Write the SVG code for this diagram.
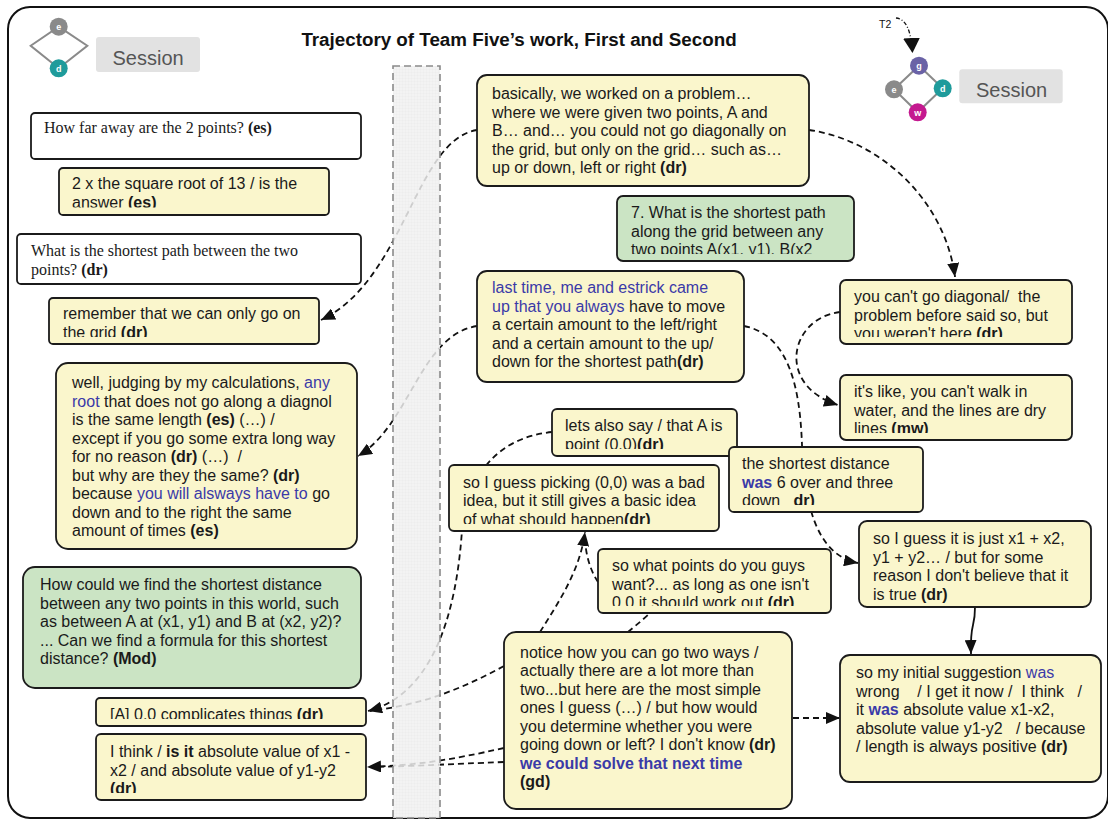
<svg xmlns="http://www.w3.org/2000/svg" width="1108" height="821" viewBox="0 0 1108 821">
  <defs>
    <style>
      .frame { fill: none; stroke: #111; stroke-width: 2; }
      .box { stroke: #1b1b1b; stroke-width: 1.8; }
      .yel { fill: #faf6cc; }
      .grn { fill: #cbe4c4; }
      .wht { fill: #ffffff; }
      .t { font-family: "Liberation Sans", Arial, sans-serif; font-size: 16px; fill: #1a1a1a; }
      .s { font-family: "Liberation Serif", "Times New Roman", serif; font-size: 16px; fill: #1a1a1a; }
      .b { font-weight: bold; }
      .bl { fill: #3a3aa8; }
      .title { font-family: "Liberation Sans", Arial, sans-serif; font-size: 18.8px; font-weight: bold; fill: #111; }
      .sess { fill: #e2e2e2; }
      .sesst { font-family: "Liberation Sans", Arial, sans-serif; font-size: 20px; fill: #555; }
      .edge { fill: none; stroke: #8a8a8a; stroke-width: 2; }
      .lt { font-family: "Liberation Sans", Arial, sans-serif; font-size: 9px; font-weight: bold; fill: #fff; text-anchor: middle; }
      .dash { fill: none; stroke: #111; stroke-width: 1.8; stroke-dasharray: 6 4; }
      .solid { fill: none; stroke: #111; stroke-width: 1.8; }
      .band { fill: url(#grid); fill-opacity: 0.85; stroke: #8a8a8a; stroke-width: 1.6; stroke-dasharray: 7 4; }
    </style>
    <marker id="arrow" markerUnits="userSpaceOnUse" viewBox="0 0 14 12" refX="14" refY="6" markerWidth="14" markerHeight="12" orient="auto">
      <path d="M0,0 L14,6 L0,12 Z" fill="#111"/>
    </marker>
    <marker id="bigarrow" markerUnits="userSpaceOnUse" viewBox="0 0 15 17" refX="15" refY="8.5" markerWidth="15" markerHeight="17" orient="auto">
      <path d="M0,0 L15,8.5 L0,17 Z" fill="#111"/>
    </marker>
    <pattern id="grid" width="3" height="3" patternUnits="userSpaceOnUse">
      <rect width="3" height="3" fill="#f1f1f1"/>
      <path d="M0,0 H3 M0,0 V3" stroke="#dedede" stroke-width="0.5"/>
    </pattern>
    <clipPath id="c2" clipPathUnits="userSpaceOnUse"><rect x="59" y="168" width="270" height="39.5"/></clipPath>
    <clipPath id="c4" clipPathUnits="userSpaceOnUse"><rect x="49" y="298" width="270" height="39"/></clipPath>
    <clipPath id="c7" clipPathUnits="userSpaceOnUse"><rect x="96" y="698" width="270" height="21"/></clipPath>
    <clipPath id="c8" clipPathUnits="userSpaceOnUse"><rect x="96" y="734" width="270" height="59"/></clipPath>
    <clipPath id="c10" clipPathUnits="userSpaceOnUse"><rect x="617" y="196" width="237" height="58"/></clipPath>
    <clipPath id="c12" clipPathUnits="userSpaceOnUse"><rect x="840" y="280" width="232" height="57"/></clipPath>
    <clipPath id="c13" clipPathUnits="userSpaceOnUse"><rect x="840" y="375" width="232" height="58"/></clipPath>
    <clipPath id="c14" clipPathUnits="userSpaceOnUse"><rect x="552" y="409" width="185" height="40"/></clipPath>
    <clipPath id="c15" clipPathUnits="userSpaceOnUse"><rect x="449" y="465" width="270" height="59"/></clipPath>
    <clipPath id="c16" clipPathUnits="userSpaceOnUse"><rect x="729" y="447" width="194" height="58"/></clipPath>
    <clipPath id="c17" clipPathUnits="userSpaceOnUse"><rect x="598" y="549" width="233" height="57"/></clipPath>
  </defs>

  <rect class="frame" x="8" y="7" width="1100" height="811" rx="22"/>

  <text class="title" x="519" y="46" text-anchor="middle">Trajectory of Team Five’s work, First and Second</text>

  <!-- first session marker -->
  <g id="session-first">
    <path class="edge" d="M58.7,26.7 L87.3,45.7 L58.7,68.3 L30.7,45.7 Z"/>
    <circle cx="58.7" cy="26.7" r="9" fill="#8a8a8a"/>
    <text class="lt" x="58.7" y="30">e</text>
    <circle cx="58.7" cy="68.3" r="9" fill="#1f9b9b"/>
    <text class="lt" x="58.7" y="71.6">d</text>
    <rect class="sess" x="96" y="37" width="104" height="35" rx="3"/>
    <text class="sesst" x="112.5" y="64.5">Session</text>
  </g>

  <!-- second session marker -->
  <g id="session-second">
    <path class="edge" d="M919,65.7 L942.7,88.3 L917.7,112.3 L894,89.3 Z"/>
    <circle cx="919" cy="65.7" r="9" fill="#6a62a6"/>
    <text class="lt" x="919" y="69">g</text>
    <circle cx="894" cy="89.3" r="9" fill="#8a8a8a"/>
    <text class="lt" x="894" y="92.6">e</text>
    <circle cx="942.7" cy="88.3" r="9" fill="#1f9b9b"/>
    <text class="lt" x="942.7" y="91.6">d</text>
    <circle cx="917.7" cy="112.3" r="9" fill="#c4198f"/>
    <text class="lt" x="917.7" y="115.6">w</text>
    <rect class="sess" x="959.3" y="69.3" width="103.4" height="34" rx="3"/>
    <text class="sesst" x="976" y="96.7">Session</text>
    <text x="879" y="27.5" font-family="Liberation Sans, Arial, sans-serif" font-size="10.5" fill="#111">T2</text>
    <path d="M896,18 C906,19 911,30 912.5,53" fill="none" stroke="#111" stroke-width="1.3" stroke-dasharray="4 2 1 2" marker-end="url(#bigarrow)"/>
  </g>

  <!-- connectors -->
  <g id="connectors">
    <path class="dash" d="M477,130 C415,140 405,280 321,320" marker-end="url(#arrow)"/>
    <path class="dash" d="M809,130 C880,140 945,200 955,277" marker-end="url(#arrow)"/>
    <path class="dash" d="M477,326 C420,335 410,425 358,456" marker-end="url(#arrow)"/>
    <path class="dash" d="M744,326 C790,335 800,390 802,445 C804,500 815,555 858,563" marker-end="url(#arrow)"/>
    <path class="dash" d="M840,312 C790,318 775,385 838,405" marker-end="url(#arrow)"/>
    <path class="dash" d="M552,432 C505,437 470,465 462,530 C456,620 430,695 368,711" marker-end="url(#arrow)"/>
    <path class="dash" d="M504,666 C460,690 420,705 370,711"/>
    <path class="dash" d="M504,748 C450,760 420,765 367,767" marker-end="url(#arrow)"/>
    <path class="dash" d="M504,762 C450,764 420,766 370,767"/>
    <path class="dash" d="M540,632 C560,600 580,570 585,532" marker-end="url(#arrow)"/>
    <path class="dash" d="M598,582 C590,570 586,555 585,540"/>
    <path class="dash" d="M628,632 C640,622 655,610 672,590"/>
    <path class="dash" d="M793,718 L840,718" marker-end="url(#arrow)"/>
    <path class="solid" d="M975,607 C975,630 970,620 971,654" marker-end="url(#arrow)"/>
  </g>

  <!-- shaded time band between the two sessions -->
  <rect class="band" x="393" y="66" width="47" height="752"/>

  <g id="n-how-far">
    <rect class="box wht" x="31" y="113" width="330" height="46" rx="4"/>
    <text class="s" x="44" y="133">How far away are the 2 points? <tspan class="b">(es)</tspan></text>
  </g>

  <g id="n-sqrt13">
    <rect class="box yel" x="59" y="168" width="270" height="47" rx="4"/>
    <text class="t" x="72" y="189" clip-path="url(#c2)">2 x the square root of 13 / is the<tspan x="72" dy="19">answer <tspan class="b">(es)</tspan></tspan></text>
  </g>

  <g id="n-shortest-question">
    <rect class="box wht" x="17" y="234" width="344" height="50" rx="4"/>
    <text class="s" x="31" y="256">What is the shortest path between the two<tspan x="31" dy="19">points? <tspan class="b">(dr)</tspan></tspan></text>
  </g>

  <g id="n-remember">
    <rect class="box yel" x="49" y="298" width="270" height="46" rx="4"/>
    <text class="t" x="63" y="319" clip-path="url(#c4)">remember that we can only go on<tspan x="63" dy="18.5">the grid <tspan class="b">(dr)</tspan></tspan></text>
  </g>

  <g id="n-judging">
    <rect class="box yel" x="56" y="363" width="301" height="186" rx="12"/>
    <text class="t" x="72" y="388">well, judging by my calculations, <tspan class="bl">any</tspan>
      <tspan x="72" dy="18.5"><tspan class="bl">root</tspan> that does not go along a diagnol</tspan>
      <tspan x="72" dy="18.5">is the same length <tspan class="b">(es)</tspan> (…) /</tspan>
      <tspan x="72" dy="18.5">except if you go some extra long way</tspan>
      <tspan x="72" dy="18.5">for no reason <tspan class="b">(dr)</tspan> (…)&#160; /</tspan>
      <tspan x="72" dy="18.5">but why are they the same? <tspan class="b">(dr)</tspan></tspan>
      <tspan x="72" dy="18.5">because <tspan class="bl">you will alsways have to</tspan> go</tspan>
      <tspan x="72" dy="18.5">down and to the right the same</tspan>
      <tspan x="72" dy="18.5">amount of times <tspan class="b">(es)</tspan></tspan></text>
  </g>

  <g id="n-mod-question">
    <rect class="box grn" x="23" y="567" width="338" height="121" rx="12"/>
    <text class="t" x="40" y="590">How could we find the shortest distance
      <tspan x="40" dy="18.5">between any two points in this world, such</tspan>
      <tspan x="40" dy="18.5">as between A at (x1, y1) and B at (x2, y2)?</tspan>
      <tspan x="40" dy="18.5">... Can we find a formula for this shortest</tspan>
      <tspan x="40" dy="18.5">distance? <tspan class="b">(Mod)</tspan></tspan></text>
  </g>

  <g id="n-zero-zero">
    <rect class="box yel" x="96" y="698" width="270" height="28" rx="4"/>
    <text class="t" x="110" y="719.5" clip-path="url(#c7)">[A] 0.0 complicates things <tspan class="b">(dr)</tspan></text>
  </g>

  <g id="n-i-think">
    <rect class="box yel" x="96" y="734" width="270" height="66" rx="5"/>
    <text class="t" x="110" y="757" clip-path="url(#c8)">I think / <tspan class="b">is it</tspan> absolute value of x1 -<tspan x="110" dy="18.5">x2 / and absolute value of y1-y2</tspan><tspan x="110" dy="18.5" class="b">(dr)</tspan></text>
  </g>

  <g id="n-basically">
    <rect class="box yel" x="477" y="75" width="332" height="111" rx="10"/>
    <text class="t" x="492" y="99">basically, we worked on a problem…
      <tspan x="492" dy="18.5">where we were given two points, A and</tspan>
      <tspan x="492" dy="18.5">B… and… you could not go diagonally on</tspan>
      <tspan x="492" dy="18.5">the grid, but only on the grid… such as…</tspan>
      <tspan x="492" dy="18.5">up or down, left or right <tspan class="b">(dr)</tspan></tspan></text>
  </g>

  <g id="n-question-7">
    <rect class="box grn" x="617" y="196" width="237" height="65" rx="6"/>
    <text class="t" x="631" y="218" clip-path="url(#c10)">7. What is the shortest path<tspan x="631" dy="18.5">along the grid between any</tspan><tspan x="631" dy="18.5">two points A(x1, y1), B(x2</tspan></text>
  </g>

  <g id="n-last-time">
    <rect class="box yel" x="477" y="271" width="267" height="111" rx="10"/>
    <text class="t" x="492" y="293"><tspan class="bl">last time, me and estrick came</tspan>
      <tspan x="492" dy="18.5"><tspan class="bl">up that you always</tspan> have to move</tspan>
      <tspan x="492" dy="18.5">a certain amount to the left/right</tspan>
      <tspan x="492" dy="18.5">and a certain amount to the up/</tspan>
      <tspan x="492" dy="18.5">down for the shortest path<tspan class="b">(dr)</tspan></tspan></text>
  </g>

  <g id="n-diagonal">
    <rect class="box yel" x="840" y="280" width="232" height="64" rx="6"/>
    <text class="t" x="854" y="302" clip-path="url(#c12)">you can't go diagonal/&#160; the<tspan x="854" dy="18.5">problem before said so, but</tspan><tspan x="854" dy="18.5">you weren't here <tspan class="b">(dr)</tspan></tspan></text>
  </g>

  <g id="n-water">
    <rect class="box yel" x="840" y="375" width="232" height="65" rx="6"/>
    <text class="t" x="854" y="397" clip-path="url(#c13)">it's like, you can't walk in<tspan x="854" dy="18.5">water, and the lines are dry</tspan><tspan x="854" dy="18.5">lines <tspan class="b">(mw)</tspan></tspan></text>
  </g>

  <g id="n-lets-also">
    <rect class="box yel" x="552" y="409" width="185" height="47" rx="5"/>
    <text class="t" x="565" y="431" clip-path="url(#c14)">lets also say / that A is<tspan x="565" dy="18.5">point (0,0)<tspan class="b">(dr)</tspan></tspan></text>
  </g>

  <g id="n-picking">
    <rect class="box yel" x="449" y="465" width="270" height="66" rx="5"/>
    <text class="t" x="463" y="487.5" clip-path="url(#c15)">so I guess picking (0,0) was a bad<tspan x="463" dy="18.5">idea, but it still gives a basic idea</tspan><tspan x="463" dy="18.5">of what should happen<tspan class="b">(dr)</tspan></tspan></text>
  </g>

  <g id="n-shortest-distance">
    <rect class="box yel" x="729" y="447" width="194" height="65" rx="5"/>
    <text class="t" x="742" y="469" clip-path="url(#c16)">the shortest distance<tspan x="742" dy="18.5"><tspan class="b bl">was</tspan> 6 over and three</tspan><tspan x="742" dy="18.5">down&#160;&#160; <tspan class="b">dr)</tspan></tspan></text>
  </g>

  <g id="n-what-points">
    <rect class="box yel" x="598" y="549" width="233" height="64" rx="5"/>
    <text class="t" x="612" y="571" clip-path="url(#c17)">so what points do you guys<tspan x="612" dy="18.5">want?... as long as one isn't</tspan><tspan x="612" dy="18.5">0,0 it should work out <tspan class="b">(dr)</tspan></tspan></text>
  </g>

  <g id="n-just-sum">
    <rect class="box yel" x="859" y="521" width="232" height="86" rx="8"/>
    <text class="t" x="873" y="544">so I guess it is just x1 + x2,
      <tspan x="873" dy="18.5">y1 + y2… / but for some</tspan>
      <tspan x="873" dy="18.5">reason I don't believe that it</tspan>
      <tspan x="873" dy="18.5">is true <tspan class="b">(dr)</tspan></tspan></text>
  </g>

  <g id="n-initial">
    <rect class="box yel" x="840" y="655" width="261" height="127" rx="10"/>
    <text class="t" x="856" y="678">so my initial suggestion <tspan class="bl">was</tspan>
      <tspan x="856" dy="18.5">wrong&#160;&#160;&#160; / I get it now /&#160; I think&#160;&#160; /</tspan>
      <tspan x="856" dy="18.5">it <tspan class="b bl">was</tspan> absolute value x1-x2,</tspan>
      <tspan x="856" dy="18.5">absolute value y1-y2&#160;&#160; / because</tspan>
      <tspan x="856" dy="18.5">/ length is always positive <tspan class="b">(dr)</tspan></tspan></text>
  </g>

  <g id="n-notice">
    <rect class="box yel" x="504" y="632" width="288" height="177" rx="12"/>
    <text class="t" x="520" y="657.5">notice how you can go two ways /
      <tspan x="520" dy="18.5">actually there are a lot more than</tspan>
      <tspan x="520" dy="18.5">two...but here are the most simple</tspan>
      <tspan x="520" dy="18.5">ones I guess (…) / but how would</tspan>
      <tspan x="520" dy="18.5">you determine whether you were</tspan>
      <tspan x="520" dy="18.5">going down or left? I don't know <tspan class="b">(dr)</tspan></tspan>
      <tspan x="520" dy="18.5" class="b bl">we could solve that next time</tspan>
      <tspan x="520" dy="18.5" class="b">(gd)</tspan></text>
  </g>
</svg>
